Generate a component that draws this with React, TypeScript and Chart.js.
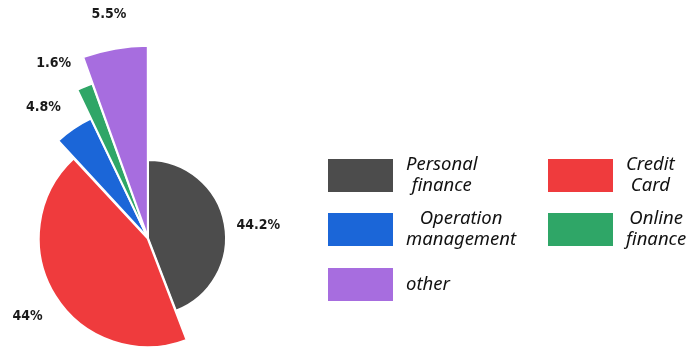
import React, { useEffect, useRef } from "react";
import { Chart, registerables } from "chart.js";

Chart.register(...registerables);

const categories = ["Personal finance", "Credit Card", "Operation management", "Online finance", "other"];
const legendLines = [["Personal", "finance"], ["Credit", "Card"], ["Operation", "management"], ["Online", "finance"], ["other"]];
const shares = [44.2, 44, 4.8, 1.6, 5.5];
const valueLabels = ["44.2%", "44%", "4.8%", "1.6%", "5.5%"];

const colors = ["#4c4c4c", "#ef3b3d", "#1b66d8", "#2fa667", "#a76ddf"];
const radiusFactor = [0.69, 0.96, 1.16, 1.44, 1.69];
const sliceOffset = [0, 2, 3, 3, 3];
const labelNudgeDeg = [4, -1, -4.6, -5.7, 0];

const radiusPlugin = {
  id: "varRadius",
  afterDatasetsUpdate(chart: any) {
    const a = chart.chartArea;
    const base = Math.min(a.right - a.left, a.bottom - a.top) / 2;
    const meta = chart.getDatasetMeta(0);
    meta.data.forEach((arc: any, i: number) => {
      arc.outerRadius = base * radiusFactor[i];
      arc.innerRadius = 0;
    });
  },
};

const labelPlugin = {
  id: "sliceLabels",
  afterDatasetsDraw(chart: any) {
    const ctx = chart.ctx;
    const meta = chart.getDatasetMeta(0);
    ctx.save();
    ctx.font = "bold 14px 'DejaVu Sans Condensed', 'DejaVu Sans'";
    ctx.fillStyle = "#1a1a1a";
    ctx.textBaseline = "middle";
    ctx.textAlign = "center";
    meta.data.forEach((arc: any, i: number) => {
      const mid = (arc.startAngle + arc.endAngle) / 2 + (labelNudgeDeg[i] * Math.PI) / 180;
      const r = arc.outerRadius + (sliceOffset[i] || 0) + 33;
      const x = arc.x + Math.cos(mid) * r;
      const y = arc.y + Math.sin(mid) * r;
      ctx.fillText(valueLabels[i], x, y);
    });
    ctx.restore();
  },
};

const legendPlugin = {
  id: "gridLegend",
  afterDraw(chart: any) {
    const ctx = chart.ctx;
    ctx.save();
    ctx.font = "italic 18.5px 'Noto Sans'";
    ctx.textBaseline = "middle";
    ctx.textAlign = "center";
    const colX = [328, 548];
    const rowY = [159, 213, 268];
    const boxW = 65;
    const boxH = 33;
    const lineH = 21;
    categories.forEach((_, i) => {
      const bx = colX[i % 2];
      const by = rowY[Math.floor(i / 2)];
      ctx.fillStyle = colors[i];
      ctx.fillRect(bx, by, boxW, boxH);
      const lines = legendLines[i];
      const maxW = Math.max(...lines.map((l) => ctx.measureText(l).width));
      const cx = bx + boxW + 13 + maxW / 2;
      const cy = by + boxH / 2;
      ctx.fillStyle = "#111";
      lines.forEach((l, k) => {
        ctx.fillText(l, cx, cy + (k - (lines.length - 1) / 2) * lineH);
      });
    });
    ctx.restore();
  },
};

export default function App() {
  const ref = useRef<HTMLCanvasElement>(null);
  useEffect(() => {
    if (!ref.current) return;
    const chart = new Chart(ref.current, {
      type: "pie",
      data: {
        labels: categories,
        datasets: [
          {
            data: shares,
            backgroundColor: colors,
            borderColor: "#ffffff",
            borderWidth: 2,
            offset: sliceOffset,
            clip: false as any,
          } as any,
        ],
      },
      options: {
        responsive: false,
        animation: false,
        layout: { padding: { left: 0, right: 391, top: 125, bottom: 0 } },
        plugins: { legend: { display: false }, tooltip: { enabled: false } },
      },
      plugins: [radiusPlugin, labelPlugin, legendPlugin],
    });
    return () => chart.destroy();
  }, []);
  return (
    <div style={{ position: "absolute", left: 0, top: 0, width: 687, height: 351, background: "#fff" }}>
      <canvas ref={ref} width={687} height={351} />
    </div>
  );
}
